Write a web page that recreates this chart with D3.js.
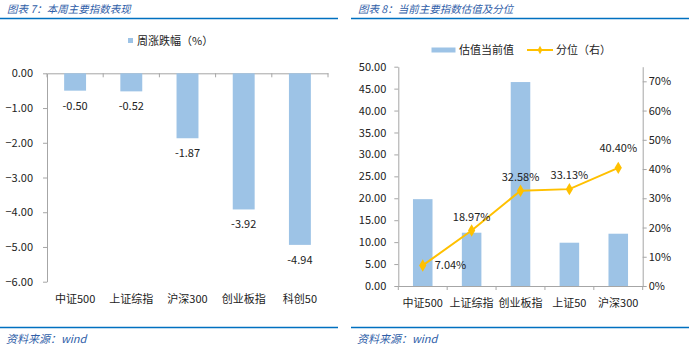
<!DOCTYPE html>
<html>
<head>
<meta charset="utf-8">
<script src="https://cdn.jsdelivr.net/npm/d3@7"></script>
<style>
  body { margin: 0; background: #fff; }
  svg { display: block; font-family: "Noto Sans CJK SC", "Noto Sans", sans-serif; }
</style>
</head>
<body>
<div id="chart"></div>
<script>
// 图表7: weekly change
const weekCats = ["中证500", "上证综指", "沪深300", "创业板指", "科创50"];
const weekChange = [-0.50, -0.52, -1.87, -3.92, -4.94];
const weekTicks = [0, -1, -2, -3, -4, -5, -6];

// 图表8: valuation + percentile
const valCats = ["中证500", "上证综指", "创业板指", "上证50", "沪深300"];
const valNow = [19.8, 12.15, 46.5, 9.87, 11.92];
const valPct = [0.0704, 0.1897, 0.3258, 0.3313, 0.4040];
const valTicksL = [0, 5, 10, 15, 20, 25, 30, 35, 40, 45, 50];
const valTicksR = [0, 0.1, 0.2, 0.3, 0.4, 0.5, 0.6, 0.7];

const W = 689, H = 354;
const barColor = "#9DC3E6";
const lineColor = "#FFC000";
const axisColor = "#a6a6a6";
const titleColor = "#2f5ea8";
const ruleColor = "#0070C0";

const svg = d3.select("#chart").append("svg")
    .attr("width", W)
    .attr("height", H);

// titles, rules, footers
function frame(x0, x1, title) {
    svg.append("text")
        .attr("x", x0 + 7)
        .attr("y", 13)
        .attr("font-size", "10.5px")
        .attr("font-style", "italic")
        .attr("fill", titleColor)
        .text(title);
    svg.append("line")
        .attr("x1", x0).attr("x2", x1)
        .attr("y1", 18.5).attr("y2", 18.5)
        .attr("stroke", ruleColor).attr("stroke-width", 1.5);
    svg.append("line")
        .attr("x1", x0).attr("x2", x1)
        .attr("y1", 327.5).attr("y2", 327.5)
        .attr("stroke", ruleColor).attr("stroke-width", 1.5);
    svg.append("text")
        .attr("x", x0 + 6)
        .attr("y", 343)
        .attr("font-size", "11px")
        .attr("font-style", "italic")
        .attr("fill", titleColor)
        .text("资料来源：wind");
}
frame(0, 338, "图表 7：本周主要指数表现");
frame(351, 689, "图表 8：当前主要指数估值及分位");

function styleAxis(g) {
    g.select(".domain").attr("stroke", axisColor);
    g.selectAll(".tick line").attr("stroke", axisColor);
    g.selectAll(".tick text")
        .attr("fill", "#222")
        .attr("font-size", "11px")
        .attr("font-family", "\"Noto Sans CJK SC\", sans-serif");
}

// ---------- left chart ----------
const x1 = d3.scaleBand().domain(weekCats).range([47, 328]).paddingInner(0).paddingOuter(0);
const y1 = d3.scaleLinear().domain([-6, 0]).range([281.7, 73.3]);

svg.append("g")
    .attr("transform", "translate(47,0)")
    .call(d3.axisLeft(y1).tickValues(weekTicks).tickFormat(d3.format(".2f")).tickSize(4).tickSizeOuter(0).tickPadding(10))
    .call(styleAxis);

// category axis sits on zero line, labels at the bottom
const xAxis1 = svg.append("g")
    .attr("transform", `translate(0,${y1(0)})`)
    .call(d3.axisBottom(x1).tickSize(0).tickSizeOuter(0).tickFormat(""))
    .call(styleAxis);
xAxis1.selectAll(".tick").remove();
svg.append("g").selectAll("line")
    .data(d3.range(weekCats.length + 1))
    .join("line")
    .attr("x1", (i) => 47 + i * x1.step()).attr("x2", (i) => 47 + i * x1.step())
    .attr("y1", y1(0)).attr("y2", y1(0) + 4)
    .attr("stroke", axisColor);

const bw1 = x1.bandwidth() * 0.39;
svg.append("g").selectAll("rect")
    .data(weekCats)
    .join("rect")
    .attr("x", (d) => x1(d) + (x1.bandwidth() - bw1) / 2)
    .attr("y", y1(0))
    .attr("width", bw1)
    .attr("height", (d, i) => y1(weekChange[i]) - y1(0))
    .attr("fill", barColor);

svg.append("g").selectAll("text")
    .data(weekCats)
    .join("text")
    .attr("x", (d) => x1(d) + x1.bandwidth() / 2)
    .attr("y", (d, i) => y1(weekChange[i]) + 19)
    .attr("text-anchor", "middle")
    .attr("font-size", "11px")
    .attr("fill", "#222")
    .text((d, i) => d3.format(".2f")(weekChange[i]).replace("−", "-"));

svg.append("g").selectAll("text")
    .data(weekCats)
    .join("text")
    .attr("x", (d) => x1(d) + x1.bandwidth() / 2)
    .attr("y", 303)
    .attr("text-anchor", "middle")
    .attr("font-size", "11px")
    .attr("fill", "#222")
    .text((d) => d);

// legend
svg.append("rect").attr("x", 128).attr("y", 38).attr("width", 5).attr("height", 5).attr("fill", barColor);
svg.append("text").attr("x", 137).attr("y", 44.5).attr("font-size", "11px").attr("fill", "#222").text("周涨跌幅（%）");

// ---------- right chart ----------
const x2 = d3.scaleBand().domain(valCats).range([398.3, 642.7]);
const y2 = d3.scaleLinear().domain([0, 50]).range([286, 66.7]);
const y2r = d3.scaleLinear().domain([0, 0.75]).range([286, 66.7]);

svg.append("g")
    .attr("transform", "translate(398.3,0)")
    .call(d3.axisLeft(y2).tickValues(valTicksL).tickFormat(d3.format(".2f")).tickSize(4).tickSizeOuter(0).tickPadding(8))
    .call(styleAxis);

svg.append("g")
    .attr("transform", "translate(642.7,0)")
    .call(d3.axisRight(y2r).tickValues(valTicksR).tickFormat(d3.format(".0%")).tickSize(4).tickSizeOuter(0).tickPadding(2))
    .call(styleAxis);

const xAxis2 = svg.append("g")
    .attr("transform", `translate(0,${y2(0)})`)
    .call(d3.axisBottom(x2).tickSize(0).tickSizeOuter(0).tickFormat(""))
    .call(styleAxis);
xAxis2.selectAll(".tick").remove();
svg.append("g").selectAll("line")
    .data(d3.range(valCats.length + 1))
    .join("line")
    .attr("x1", (i) => 398.3 + i * x2.step()).attr("x2", (i) => 398.3 + i * x2.step())
    .attr("y1", y2(0)).attr("y2", y2(0) + 4)
    .attr("stroke", axisColor);

const bw2 = x2.bandwidth() * 0.4;
svg.append("g").selectAll("rect")
    .data(valCats)
    .join("rect")
    .attr("x", (d) => x2(d) + (x2.bandwidth() - bw2) / 2)
    .attr("y", (d, i) => y2(valNow[i]))
    .attr("width", bw2)
    .attr("height", (d, i) => y2(0) - y2(valNow[i]))
    .attr("fill", barColor);

const pts = valCats.map((c, i) => [x2(c) + x2.bandwidth() / 2, y2r(valPct[i])]);
svg.append("path")
    .attr("d", d3.line()(pts))
    .attr("fill", "none")
    .attr("stroke", lineColor)
    .attr("stroke-width", 2);

svg.append("g").selectAll("path")
    .data(pts)
    .join("path")
    .attr("transform", (p) => `translate(${p[0]},${p[1]})`)
    .attr("d", d3.symbol(d3.symbolDiamond, 45))
    .attr("fill", lineColor);

// percentile labels: first one to the right, rest above
svg.append("g").selectAll("text")
    .data(pts)
    .join("text")
    .attr("x", (p, i) => i === 0 ? p[0] + 12 : p[0])
    .attr("y", (p, i) => i === 0 ? p[1] + 4 : p[1] - (i === 4 ? 16 : 10))
    .attr("text-anchor", (p, i) => i === 0 ? "start" : "middle")
    .attr("font-size", "11px")
    .attr("fill", "#222")
    .text((p, i) => d3.format(".2%")(valPct[i]));

svg.append("g").selectAll("text")
    .data(valCats)
    .join("text")
    .attr("x", (d) => x2(d) + x2.bandwidth() / 2)
    .attr("y", 307)
    .attr("text-anchor", "middle")
    .attr("font-size", "11px")
    .attr("fill", "#222")
    .text((d) => d);

// legend
svg.append("rect").attr("x", 431.5).attr("y", 47.5).attr("width", 24).attr("height", 5).attr("fill", barColor);
svg.append("text").attr("x", 459).attr("y", 54).attr("font-size", "11px").attr("fill", "#222").text("估值当前值");
svg.append("line").attr("x1", 527).attr("x2", 553).attr("y1", 50).attr("y2", 50)
    .attr("stroke", lineColor).attr("stroke-width", 2);
svg.append("path").attr("transform", "translate(540,50)")
    .attr("d", d3.symbol(d3.symbolDiamond, 20)).attr("fill", lineColor);
svg.append("text").attr("x", 556).attr("y", 54).attr("font-size", "11px").attr("fill", "#222").text("分位（右）");
</script>
</body>
</html>
